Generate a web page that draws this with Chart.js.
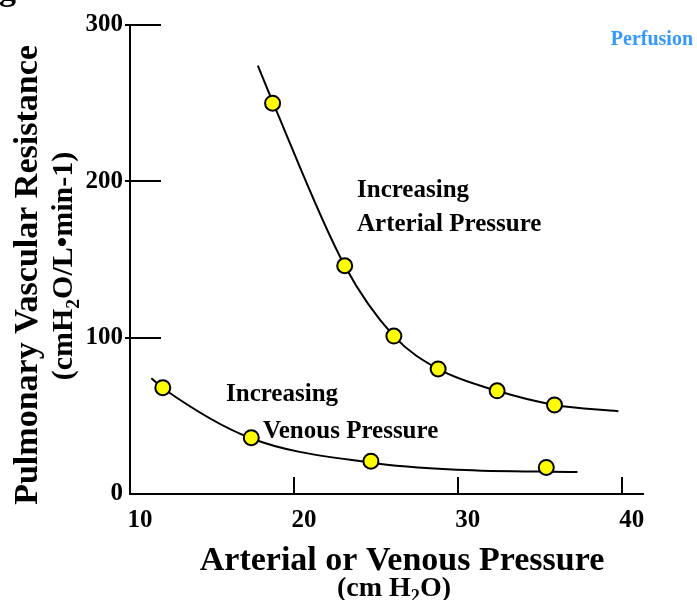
<!DOCTYPE html>
<html>
<head>
<meta charset="utf-8">
<script src="https://cdn.jsdelivr.net/npm/chart.js@4.4.1/dist/chart.umd.min.js"></script>
<style>
  html, body { margin: 0; padding: 0; background: #fff; }
  #chart { display: block; }
</style>
</head>
<body>
<canvas id="chart" width="697" height="600"></canvas>
<script>
// measured resistance points (yellow dots)
const arterialX = [18.7, 23.1, 26.1, 28.8, 32.4, 35.9];
const arterialY = [250, 146, 101, 80, 66, 57];
const venousX = [12.0, 17.4, 24.7, 35.4];
const venousY = [68, 36, 21, 17];

// fitted curves
const arterialCurveX = [17.8, 18.7, 23.1, 26.1, 28.8, 32.4, 35.9, 39.8];
const arterialCurveY = [274, 251, 146, 101, 80, 66, 57, 53];
const venousCurveX = [11.3, 12.1, 17.3, 24.7, 30.0, 37.3];
const venousCurveY = [74, 67, 36, 20, 15.5, 14];

const xTickValues = [10, 20, 30, 40];
const yTickValues = [0, 100, 200, 300];

const SERIF = "'Liberation Serif', 'Times New Roman', serif";

function toPoints(xs, ys) {
    return xs.map((x, i) => ({ x: x, y: ys[i] }));
}

// centred text built from normal and subscript pieces
function drawRuns(ctx, runs, x, y, size) {
    const fontFor = r => `bold ${r.sub ? size * 0.65 : size}px ${SERIF}`;
    const widths = runs.map(r => {
        ctx.font = fontFor(r);
        return ctx.measureText(r.t).width;
    });
    let cx = x - widths.reduce((a, b) => a + b, 0) / 2;
    ctx.textAlign = 'left';
    runs.forEach((r, i) => {
        ctx.font = fontFor(r);
        ctx.fillText(r.t, cx, r.sub ? y + size * 0.22 : y);
        cx += widths[i];
    });
}

const decorPlugin = {
    id: 'decor',
    afterDraw(chart) {
        const ctx = chart.ctx;
        const xs = chart.scales.x;
        const ys = chart.scales.y;
        const area = chart.chartArea;

        ctx.save();
        ctx.strokeStyle = '#000';
        ctx.lineWidth = 2;
        // inward tick marks
        yTickValues.filter(v => v > 0).forEach(v => {
            const py = Math.round(ys.getPixelForValue(v));
            ctx.beginPath();
            ctx.moveTo(area.left - 5, py);
            ctx.lineTo(area.left + 31, py);
            ctx.stroke();
        });
        xTickValues.filter(v => v > 10).forEach(v => {
            const px = Math.round(xs.getPixelForValue(v));
            ctx.beginPath();
            ctx.moveTo(px, area.bottom);
            ctx.lineTo(px, area.bottom - 17);
            ctx.stroke();
        });

        ctx.fillStyle = '#000';
        ctx.textBaseline = 'alphabetic';

        // axis titles
        ctx.textAlign = 'center';
        ctx.font = `bold 34px ${SERIF}`;
        ctx.fillText('Arterial or Venous Pressure', 402, 570);
        drawRuns(ctx, [{ t: '(cm H' }, { t: '2', sub: true }, { t: 'O)' }], 394, 596, 28);

        ctx.save();
        ctx.translate(37, 275);
        ctx.rotate(-Math.PI / 2);
        ctx.textAlign = 'center';
        ctx.font = `bold 34px ${SERIF}`;
        ctx.fillText('Pulmonary Vascular Resistance', 0, 0);
        ctx.restore();

        ctx.save();
        ctx.translate(72, 266);
        ctx.rotate(-Math.PI / 2);
        drawRuns(ctx, [{ t: '(cmH' }, { t: '2', sub: true }, { t: 'O/L\u2022min-1)' }], 0, 0, 30);
        ctx.restore();

        // notes on the plot
        ctx.textAlign = 'left';
        ctx.font = `bold 25px ${SERIF}`;
        ctx.fillText('Increasing', 357, 197);
        ctx.fillText('Arterial Pressure', 357, 231);
        ctx.fillText('Increasing', 226, 401);
        ctx.fillText('Venous Pressure', 263, 438);

        ctx.fillStyle = '#3399ff';
        ctx.font = `bold 20px ${SERIF}`;
        ctx.textAlign = 'right';
        ctx.fillText('Perfusion', 693, 45);

        // cut-off letter from the slide title
        ctx.fillStyle = '#000';
        ctx.textAlign = 'left';
        ctx.font = `bold 34px ${SERIF}`;
        ctx.fillText('g', -1, 0);
        ctx.restore();
    }
};

const dotStyle = {
    showLine: false,
    pointStyle: 'circle',
    pointRadius: 7.5,
    pointBackgroundColor: '#ffff00',
    pointBorderColor: '#000',
    pointBorderWidth: 2,
    order: 0
};

const curveStyle = {
    showLine: true,
    borderColor: '#000',
    borderWidth: 2,
    pointRadius: 0,
    cubicInterpolationMode: 'monotone',
    fill: false,
    order: 1
};

new Chart(document.getElementById('chart').getContext('2d'), {
    type: 'scatter',
    data: {
        datasets: [
            { label: 'Arterial curve', data: toPoints(arterialCurveX, arterialCurveY), ...curveStyle },
            { label: 'Venous curve', data: toPoints(venousCurveX, venousCurveY), ...curveStyle },
            { label: 'Increasing arterial pressure', data: toPoints(arterialX, arterialY), ...dotStyle },
            { label: 'Increasing venous pressure', data: toPoints(venousX, venousY), ...dotStyle }
        ]
    },
    options: {
        responsive: false,
        devicePixelRatio: 1,
        animation: false,
        layout: {
            padding: { top: 25, right: 54, left: 0, bottom: 0 }
        },
        plugins: {
            legend: { display: false },
            tooltip: { enabled: false }
        },
        scales: {
            x: {
                type: 'linear',
                position: 'bottom',
                min: 10,
                max: 41.3,
                afterBuildTicks: scale => {
                    scale.ticks = xTickValues.map(v => ({ value: v }));
                },
                afterFit: scale => {
                    scale.height = 106;
                },
                grid: { display: false, drawTicks: false },
                border: { display: true, color: '#000', width: 2 },
                ticks: {
                    color: '#000',
                    padding: 12,
                    labelOffset: 10,
                    maxRotation: 0,
                    font: { family: SERIF, weight: 'bold', size: 25 }
                }
            },
            y: {
                type: 'linear',
                min: 0,
                max: 300,
                afterBuildTicks: scale => {
                    scale.ticks = yTickValues.map(v => ({ value: v }));
                },
                afterFit: scale => {
                    scale.width = 130;
                },
                grid: { display: false, drawTicks: false },
                border: { display: true, color: '#000', width: 2 },
                ticks: {
                    color: '#000',
                    padding: 7,
                    font: { family: SERIF, weight: 'bold', size: 25 }
                }
            }
        }
    },
    plugins: [decorPlugin]
});
</script>
</body>
</html>
